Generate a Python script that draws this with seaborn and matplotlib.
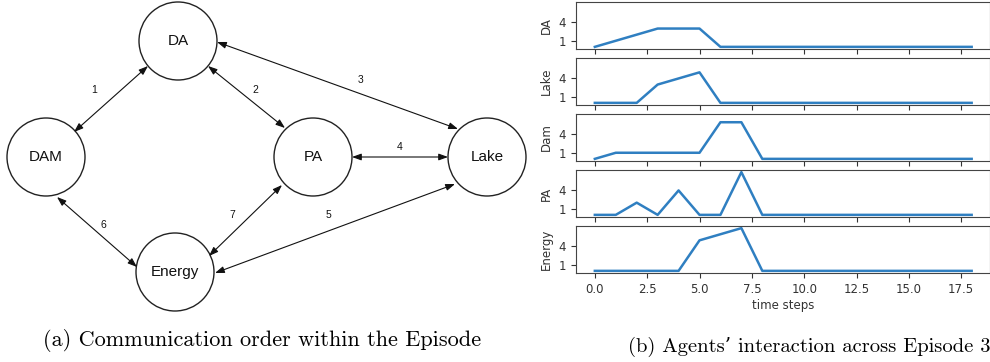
import numpy as np
import pandas as pd
import matplotlib
matplotlib.use("Agg")
import matplotlib.pyplot as plt
from matplotlib.patches import Circle
import seaborn as sns

# ---------------- data ----------------
time_steps = list(range(19))
agents = ["DA", "Lake", "Dam", "PA", "Energy"]
da_vals     = [0, 1, 2, 3, 3, 3, 0, 0, 0, 0, 0, 0, 0, 0, 0, 0, 0, 0, 0]
lake_vals   = [0, 0, 0, 3, 4, 5, 0, 0, 0, 0, 0, 0, 0, 0, 0, 0, 0, 0, 0]
dam_vals    = [0, 1, 1, 1, 1, 1, 6, 6, 0, 0, 0, 0, 0, 0, 0, 0, 0, 0, 0]
pa_vals     = [0, 0, 2, 0, 4, 0, 0, 7, 0, 0, 0, 0, 0, 0, 0, 0, 0, 0, 0]
energy_vals = [0, 0, 0, 0, 0, 5, 6, 7, 0, 0, 0, 0, 0, 0, 0, 0, 0, 0, 0]
y_ticks = [1, 4]

# communication graph
node_names = ["DA", "DAM", "PA", "Lake", "Energy"]
edge_labels = ["1", "2", "3", "4", "5", "6", "7"]

caption_a = "(a) Communication order within the Episode"
caption_b = "(b) Agents\u2019 interaction across Episode 3"

series = {"DA": da_vals, "Lake": lake_vals, "Dam": dam_vals,
          "PA": pa_vals, "Energy": energy_vals}
df = pd.concat([pd.DataFrame({"t": time_steps, "v": series[a], "agent": a})
                for a in agents], ignore_index=True)

# ---------------- layout ----------------
W, H = 990, 362
fig = plt.figure(figsize=(W / 100, H / 100), dpi=100)

# left diagram (pixel coordinates)
axd = fig.add_axes([0, 0, 530 / W, 1])
axd.set_xlim(0, 530)
axd.set_ylim(H, 0)
axd.axis("off")

node_pos = {"DA": (178, 41), "DAM": (46, 157), "PA": (313, 157),
            "Lake": (487, 157), "Energy": (175, 272)}
R = 39
for n in node_names:
    x, y = node_pos[n]
    axd.add_patch(Circle((x, y), R, facecolor="white", edgecolor="#222222", lw=1.0))
    axd.text(x, y, n, ha="center", va="center", fontsize=11,
             family="Liberation Sans", color="#111111")

edge_ends = [((74, 132), (148, 66)),
             ((208, 66), (285, 128)),
             ((217, 42), (458, 129)),
             ((352, 157), (448, 157)),
             ((215, 273), (455, 184)),
             ((57, 197), (137, 267)),
             ((209, 256), (282, 185))]
label_pos = [(94, 90), (255, 90), (361, 80), (400, 147), (328, 215),
             (103, 225), (232, 215)]
for (p1, p2), lab, lp in zip(edge_ends, edge_labels, label_pos):
    axd.annotate("", xy=p2, xytext=p1,
                 arrowprops=dict(arrowstyle="<|-|>,head_length=0.55,head_width=0.2",
                                 color="#111111", lw=0.8,
                                 shrinkA=0, shrinkB=0))
    axd.text(lp[0], lp[1], lab, ha="center", va="center", fontsize=7.5,
             family="Liberation Sans", color="#111111")

fig.text(262 / W, 1 - 340 / H, caption_a, ha="center", va="center",
         fontsize=16, family=["cmr10", "DejaVu Serif"])

# right stacked line plots
gs = fig.add_gridspec(5, 1, left=576 / W, right=1.0005, top=1 - 2 / H,
                      bottom=1 - 273 / H, hspace=9 / 47)
axes = []
for i, a in enumerate(agents):
    ax = fig.add_subplot(gs[i], sharex=axes[0] if axes else None,
                         sharey=axes[0] if axes else None)
    axes.append(ax)
    sns.lineplot(data=df[df["agent"] == a], x="t", y="v", ax=ax,
                 color="#2f7fc1", lw=1.8)
    ax.set_ylabel(a, fontsize=8.5, color="#333333")
    ax.set_xlabel("")
    ax.set_yticks(y_ticks)
    ax.tick_params(labelsize=8.5, colors="#333333", length=3.5, width=0.8)
    for s in ax.spines.values():
        s.set_color("#444444")
        s.set_linewidth(0.8)
    if i < len(agents) - 1:
        ax.tick_params(labelbottom=False)
axes[0].set_ylim(-0.35, 7.35)
axes[0].set_xlim(-0.9, 18.9)
axes[-1].set_xlabel("time steps", fontsize=8.5, color="#333333", labelpad=2)

fig.text(809 / W, 1 - 347 / H, caption_b, ha="center", va="center",
         fontsize=14.8, family=["cmr10", "DejaVu Serif"])

fig.savefig("out.png", dpi=100)
